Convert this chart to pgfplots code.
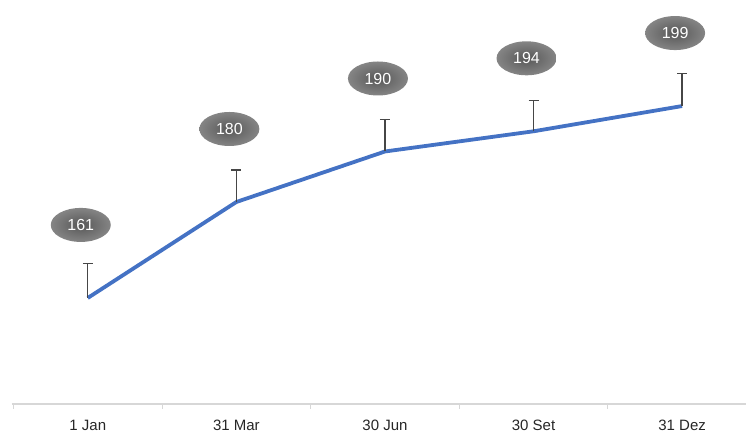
\documentclass[border=0pt]{standalone}
\usepackage{fontspec}
\setmainfont{Liberation Sans}
\usepackage{pgfplots}
\pgfplotsset{compat=1.18}
\usetikzlibrary{shapes.geometric}
\definecolor{lineblue}{RGB}{68,114,196}
\definecolor{barg}{RGB}{70,70,70}
\definecolor{axg}{RGB}{215,215,215}
\begin{document}
\begin{tikzpicture}
\begin{axis}[
  scale only axis,
  width=734pt, height=404pt,
  xmin=-0.51, xmax=4.43,
  ymin=140, ymax=220,
  axis x line=bottom, axis y line=none,
  x axis line style={-, draw=axg, line width=1.2pt},
  xtick={0,1,2,3,4},
  xticklabels={1 Jan,31 Mar,30 Jun,30 Set,31 Dez},
  major tick length=0pt,
  extra x ticks={-0.5,0.5,1.5,2.5,3.5},
  extra x tick labels={},
  extra x tick style={tick align=outside, major tick length=5pt, tick style={draw=axg, line width=1pt}},
  xticklabel style={font=\fontsize{15}{17}\selectfont, text=black!85, yshift=-13pt},
  clip=false,
  nodes near coords,
  point meta=explicit symbolic,
  every node near coord/.append style={
    shape=ellipse, shading=radial, inner color=black!66, outer color=black!48,
    minimum width=60pt, minimum height=34pt, inner sep=0pt,
    text=white, font=\fontsize{16}{18}\selectfont,
    anchor=center, xshift=-7pt, yshift=73pt},
]
\addplot[color=lineblue, line width=3.8pt, mark=none,
  error bars/.cd, y dir=plus, y explicit,
  error bar style={color=barg, line width=1.4pt},
  error mark options={rotate=90, mark size=5pt, line width=1.4pt, color=barg}]
  table[x=x, y=y, y error=e, meta=lab] {
  x y e lab
  0 161 6.8 161
  1 180 6.3 180
  2 190 6.3 190
  3 194 6.1 194
  4 199 6.5 199
};
\end{axis}
\pgfresetboundingbox
\path[use as bounding box] ([xshift=-12pt,yshift=-30pt]current axis.south west) rectangle (current axis.north east);
\end{tikzpicture}
\end{document}
